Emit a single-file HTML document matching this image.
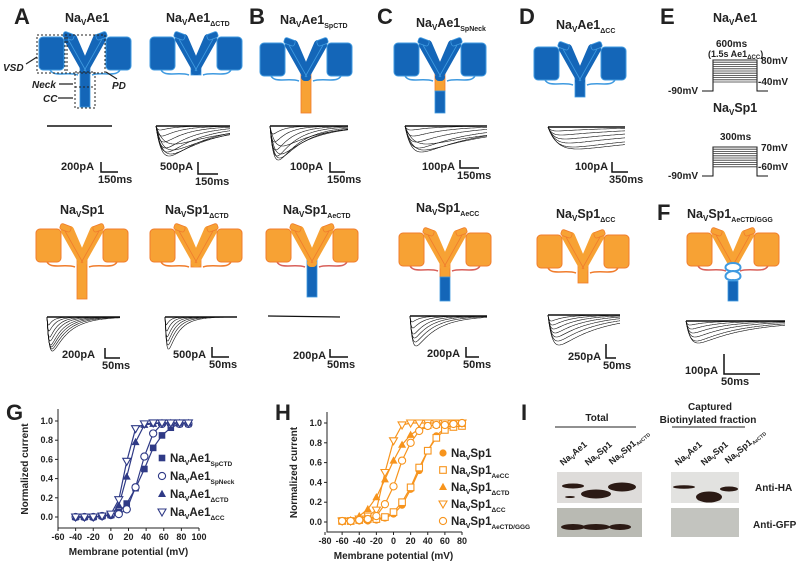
<!DOCTYPE html>
<html><head><meta charset="utf-8"><style>
html,body{margin:0;padding:0;background:#fff}
svg{display:block;font-family:"Liberation Sans",Arial,sans-serif;font-weight:bold}
</style></head><body>
<svg id="fig" width="800" height="566" viewBox="0 0 800 566" xmlns="http://www.w3.org/2000/svg">
<g font-size="22" fill="#222">
<text x="14" y="24">A</text>
<text x="249" y="24">B</text>
<text x="377" y="24">C</text>
<text x="519" y="24">D</text>
<text x="660" y="24">E</text>
<text x="657" y="220">F</text>
<text x="6" y="420">G</text>
<text x="275" y="420">H</text>
<text x="521" y="420">I</text>
</g>
<g font-size="12.5" fill="#222">
<text x="65" y="22">Na<tspan font-size="8" dy="3">V</tspan><tspan dy="-3">Ae1</tspan></text>
<text x="166" y="22">Na<tspan font-size="8" dy="3">V</tspan><tspan dy="-3">Ae1</tspan><tspan font-size="7" dy="4">ΔCTD</tspan></text>
<text x="280" y="24">Na<tspan font-size="8" dy="3">V</tspan><tspan dy="-3">Ae1</tspan><tspan font-size="7" dy="4">SpCTD</tspan></text>
<text x="416" y="27">Na<tspan font-size="8" dy="3">V</tspan><tspan dy="-3">Ae1</tspan><tspan font-size="7" dy="4">SpNeck</tspan></text>
<text x="556" y="29">Na<tspan font-size="8" dy="3">V</tspan><tspan dy="-3">Ae1</tspan><tspan font-size="7" dy="4">ΔCC</tspan></text>
<text x="713" y="22">Na<tspan font-size="8" dy="3">V</tspan><tspan dy="-3">Ae1</tspan></text>
<text x="713" y="112">Na<tspan font-size="8" dy="3">V</tspan><tspan dy="-3">Sp1</tspan></text>
<text x="60" y="214">Na<tspan font-size="8" dy="3">V</tspan><tspan dy="-3">Sp1</tspan></text>
<text x="165" y="214">Na<tspan font-size="8" dy="3">V</tspan><tspan dy="-3">Sp1</tspan><tspan font-size="7" dy="4">ΔCTD</tspan></text>
<text x="283" y="214">Na<tspan font-size="8" dy="3">V</tspan><tspan dy="-3">Sp1</tspan><tspan font-size="7" dy="4">AeCTD</tspan></text>
<text x="416" y="212">Na<tspan font-size="8" dy="3">V</tspan><tspan dy="-3">Sp1</tspan><tspan font-size="7" dy="4">AeCC</tspan></text>
<text x="556" y="218">Na<tspan font-size="8" dy="3">V</tspan><tspan dy="-3">Sp1</tspan><tspan font-size="7" dy="4">ΔCC</tspan></text>
<text x="687" y="218">Na<tspan font-size="8" dy="3">V</tspan><tspan dy="-3">Sp1</tspan><tspan font-size="7" dy="4">AeCTD/GGG</tspan></text>
</g>
<g id="channels"></g>
<g id="traces"></g>
<g id="scalebars" font-size="11" fill="#222"></g>
<g font-size="10" fill="#222" font-style="italic">
<rect x="37" y="35" width="30" height="38" fill="none" stroke="#222" stroke-dasharray="2,2"/>
<rect x="65" y="35" width="40" height="38" fill="none" stroke="#222" stroke-dasharray="2,2"/>
<rect x="75" y="72" width="20" height="36" fill="none" stroke="#222" stroke-dasharray="2,2"/>
<line x1="75" y1="87" x2="95" y2="87" stroke="#222" stroke-dasharray="2,2"/>
<text x="3" y="71">VSD</text>
<text x="32" y="88">Neck</text>
<text x="43" y="102">CC</text>
<text x="112" y="89">PD</text>
<path d="M26 64 L37 57 M59 84 L73 84 M58 98 L73 98 M117 79 L106 72" stroke="#222" stroke-width="1.2"/>
</g>
<g id="protocol" fill="#222"></g>
<g id="chartG"></g>
<g id="chartH"></g>
<g id="blot"></g>
</svg>
<script>
const NS='http://www.w3.org/2000/svg';
function mk(parent,tag,attrs,text){const e=document.createElementNS(NS,tag);for(const k in attrs)e.setAttribute(k,attrs[k]);if(text!==undefined)e.textContent=text;parent.appendChild(e);return e;}
const $=id=>document.getElementById(id);

// ---------- channel diagrams ----------
const BLUE='#1466b8',BLUE_S='#3f9ae0',OR='#f7a234',OR_S='#f07c2c',RED='#d8605a';
function channel(name,cx,ty,fill,stroke,loop,stem){
  const g=mk($('channels'),'g',{});
  
  
  mk(g,'path',{d:`M${cx-36} ${ty+30} C${cx-34} ${ty+42},${cx-18} ${ty+34},${cx-7} ${ty+38} M${cx+36} ${ty+30} C${cx+34} ${ty+42},${cx+18} ${ty+34},${cx+7} ${ty+38}`,fill:'none',stroke:loop,'stroke-width':1.5});
  mk(g,'rect',{x:cx-46,y:ty,width:25,height:33,rx:4,fill,stroke,'stroke-width':1});
  mk(g,'rect',{x:cx+21,y:ty,width:25,height:33,rx:4,fill,stroke,'stroke-width':1});
  stem.forEach(s=>mk(g,'rect',{x:cx-5,y:ty+s[0],width:10,height:s[1]-s[0],fill:s[2],stroke:s[3],'stroke-width':0.8}));
  const arm=(x1,y1,x2,y2)=>mk(g,'line',{x1,y1,x2,y2,stroke:fill,'stroke-width':8,'stroke-linecap':'round'});
  arm(cx-17,ty+2,cx+1,ty+34);arm(cx+17,ty+2,cx-1,ty+34);
  arm(cx-12,ty+1,cx-3,ty+22);arm(cx+12,ty+1,cx+3,ty+22);
  mk(g,'path',{d:`M${cx-17} ${ty+2} L${cx+1} ${ty+34} M${cx+17} ${ty+2} L${cx-1} ${ty+34}`,stroke:stroke,'stroke-width':0.8,fill:'none'});
  mk(g,'rect',{x:cx-22,y:ty-4,width:11,height:6,rx:2,fill,stroke,'stroke-width':0.8,transform:`rotate(20 ${cx-16} ${ty-1})`});
  mk(g,'rect',{x:cx+11,y:ty-4,width:11,height:6,rx:2,fill,stroke,'stroke-width':0.8,transform:`rotate(-20 ${cx+16} ${ty-1})`});
}
channel('channel-ae1',85,37,BLUE,BLUE_S,BLUE_S,[[30,70,BLUE,BLUE_S]]);
channel('channel-ae1-dctd',196,37,BLUE,BLUE_S,BLUE_S,[[28,38,BLUE,BLUE_S]]);
channel('channel-ae1-spctd',306,43,BLUE,BLUE_S,BLUE_S,[[30,70,OR,OR_S]]);
channel('channel-ae1-spneck',440,43,BLUE,BLUE_S,BLUE_S,[[30,48,OR,OR_S],[48,70,BLUE,BLUE_S]]);
channel('channel-ae1-dcc',580,47,BLUE,BLUE_S,BLUE_S,[[30,50,BLUE,BLUE_S]]);
channel('channel-sp1',82,229,OR,OR_S,OR_S,[[30,70,OR,OR_S]]);
channel('channel-sp1-dctd',196,229,OR,OR_S,OR_S,[[28,38,OR,OR_S]]);
channel('channel-sp1-aectd',312,229,OR,OR_S,RED,[[30,68,BLUE,BLUE_S]]);
channel('channel-sp1-aecc',445,233,OR,OR_S,RED,[[30,44,OR,OR_S],[44,68,BLUE,BLUE_S]]);
channel('channel-sp1-dcc',583,235,OR,OR_S,OR_S,[[30,48,OR,OR_S]]);
channel('channel-sp1-aectd-ggg',733,233,OR,OR_S,RED,[[48,68,BLUE,BLUE_S]]);
(function(){const g=$('channels');const c=mk(g,'path',{d:'M733 263 C723 263,723 272,733 271 C743 272,743 263,733 263 M733 271 C723 272,723 281,733 280 C743 281,743 272,733 271',fill:'#fff',stroke:BLUE_S,'stroke-width':2});

})();

// ---------- current traces ----------
function traces(name,x0,x1,base,depths,rise,decay){
  const g=mk($('traces'),'g',{fill:'none',stroke:'#111','stroke-width':0.6});
  
  
  mk(g,'line',{x1:x0,y1:base,x2:x1,y2:base,'stroke-width':1.4});
  depths.forEach((d,i)=>{const tr=rise*(1+i*0.5),td=decay*(1+i*0.35);let vals=[];
    for(let x=x0;x<=x1;x+=1){const t=x-x0;vals.push((1-Math.exp(-t/tr))*Math.exp(-t/td));}
    const mx=Math.max(...vals);
    const p=vals.map((v,k)=>(x0+k)+','+(base+d*2*v/mx).toFixed(1));
    mk(g,'polyline',{points:p.join(' ')});});
}
mk($('traces'),'line',{x1:47,y1:126,x2:112,y2:126,stroke:'#111','stroke-width':1.5});
traces('traces-ae1-dctd',156,230,126,[2,5,8,11,13,15,14,12,9],2,14);
traces('traces-ae1-spctd',270,348,126,[4,8,12,15,17,16,14,10],1.5,10);
traces('traces-ae1-spneck',405,487,126,[2,5,8,11,13,12,9],2.5,25);
traces('traces-ae1-dcc',548,625,127,[2,4,6,8,10,11],3,60);
traces('traces-sp1',47,120,317,[4,7,10,12,14,15,16,17],0.6,5);
traces('traces-sp1-dctd',165,237,317,[4,7,10,12,14,16],0.5,4);
mk($('traces'),'line',{x1:268,y1:316,x2:340,y2:317,stroke:'#111','stroke-width':1.3});
traces('traces-sp1-aecc',410,487,316,[3,6,9,11,13,15],0.8,8);
traces('traces-sp1-dcc',548,620,315,[3,5,7,9,11,13,15],1.2,14);
traces('traces-sp1-aectd-ggg',686,785,321,[2,4,6,8,10,11],1.5,18);

// ---------- scale bars ----------
function sbar(name,tx,ty,label,ms,bx,by,h,w){
  const g=mk($('scalebars'),'g',{});
  
  
  mk(g,'text',{x:tx,y:ty},label);
  mk(g,'path',{d:`M${bx} ${by-h} L${bx} ${by} L${bx+w} ${by}`,stroke:'#111','stroke-width':1.5,fill:'none'});
  mk(g,'text',{x:bx-3,y:by+11},ms);
}
sbar('scale-ae1',61,170,'200pA','150ms',101,172,10,17);
sbar('scale-ae1-dctd',160,170,'500pA','150ms',198,174,12,20);
sbar('scale-ae1-spctd',290,170,'100pA','150ms',330,172,10,15);
sbar('scale-ae1-spneck',422,170,'100pA','150ms',460,168,8,19);
sbar('scale-ae1-dcc',575,170,'100pA','350ms',612,172,10,16);
sbar('scale-sp1',62,358,'200pA','50ms',105,358,10,15);
sbar('scale-sp1-dctd',173,358,'500pA','50ms',212,357,10,17);
sbar('scale-sp1-aectd',293,359,'200pA','50ms',330,357,8,18);
sbar('scale-sp1-aecc',427,357,'200pA','50ms',466,357,10,13);
sbar('scale-sp1-dcc',568,360,'250pA','50ms',606,358,14,10);
sbar('scale-sp1-aectd-ggg',685,374,'100pA','50ms',724,374,20,36);

// ---------- voltage protocols ----------
function proto(name,y0,top,bot,dur,l1,l2){
  const g=mk($('protocol'),'g',{'font-size':10});
  
  
  mk(g,'path',{d:`M702 ${y0} L713 ${y0} L713 ${top} L757 ${top} L757 ${y0} L768 ${y0}`,stroke:'#111','stroke-width':1,fill:'none'});
  for(let y=top;y<=bot;y+=2.2)mk(g,'line',{x1:713,y1:y,x2:757,y2:y,stroke:'#333','stroke-width':0.8});
  mk(g,'text',{x:668,y:y0+3},'-90mV');
  mk(g,'text',{x:761,y:top+4},l1);
  mk(g,'text',{x:758,y:bot+2},l2);
  if(dur)mk(g,'text',{x:720,y:top-7},dur);
}
proto('protocol-ae1',91,60,83,'','80mV','-40mV');
proto('protocol-sp1',176,147,168,'300ms','70mV','-60mV');
(function(){const g=$('protocol');const t=mk(g,'text',{x:716,y:47,'font-size':10},'600ms');


const t2=mk(g,'text',{x:708,y:57,'font-size':9});


t2.innerHTML='(1.5s Ae1<tspan font-size="6" dy="2">ΔCC</tspan><tspan dy="-2">)</tspan>';})();

// ---------- G & H charts ----------
const gVoltages=[-40,-30,-20,-10,0,9,18,28,38,48,58,68,78,88];
const gSpCTD=[0,0,0,0.01,0.02,0.05,0.14,0.3,0.5,0.72,0.85,0.93,0.97,0.97];
const gSpNeck=[0,0,0,0.01,0.02,0.03,0.08,0.31,0.63,0.87,0.97,0.97,0.97,0.97];
const gDCTD=[0,0,0,0.01,0.02,0.12,0.42,0.78,0.96,0.97,0.98,0.98,0.98,0.98];
const gDCC=[0,0,0,0.01,0.03,0.18,0.58,0.92,0.97,0.98,0.98,0.98,0.98,0.98];
const gLabels=['SpCTD','SpNeck','ΔCTD','ΔCC'];
const gXTicks=[-60,-40,-20,0,20,40,60,80,100];
const yTicks=[0.0,0.2,0.4,0.6,0.8,1.0];
const hVoltages=[-60,-50,-40,-30,-20,-10,0,10,20,30,40,50,60,70,80];
const hSp1=[0.01,0.01,0.01,0.01,0.02,0.04,0.08,0.17,0.33,0.52,0.72,0.87,0.95,0.98,1.0];
const hAeCC=[0.01,0.01,0.02,0.03,0.03,0.05,0.1,0.2,0.35,0.55,0.72,0.85,0.93,0.96,0.97];
const hDCTD=[0.01,0.02,0.06,0.13,0.25,0.43,0.62,0.78,0.88,0.94,0.97,0.98,0.99,0.99,0.99];
const hDCC=[0.01,0.01,0.03,0.06,0.12,0.5,0.82,0.98,1.0,1.0,1.0,1.0,1.0,1.0,1.0];
const hGGG=[0.01,0.01,0.02,0.03,0.06,0.18,0.36,0.62,0.8,0.92,0.97,0.98,0.98,0.99,1.0];
const hLabels=['','AeCC','ΔCTD','ΔCC','AeCTD/GGG'];
const hXTicks=[-80,-60,-40,-20,0,20,40,60,80];

function marker(g,type,x,y,c){
  const s=3.3;let e;
  if(type==='sq')e=mk(g,'rect',{x:x-s,y:y-s,width:2*s,height:2*s,fill:c});
  else if(type==='osq')e=mk(g,'rect',{x:x-s,y:y-s,width:2*s,height:2*s,fill:'#fff',stroke:c,'stroke-width':1.1});
  else if(type==='ci')e=mk(g,'circle',{cx:x,cy:y,r:s+0.3,fill:c});
  else if(type==='oci')e=mk(g,'circle',{cx:x,cy:y,r:s+0.3,fill:'#fff',stroke:c,'stroke-width':1.1});
  else if(type==='tri')e=mk(g,'path',{d:`M${x} ${y-4.2} L${x+4} ${y+3} L${x-4} ${y+3}Z`,fill:c});
  else e=mk(g,'path',{d:`M${x} ${y+4} L${x+4} ${y-3} L${x-4} ${y-3}Z`,fill:'#fff',stroke:c,'stroke-width':1.1});
  return e;
}
function chart(root,opt){
  const c=opt.color;
  const X=v=>opt.x0+(v-opt.xmin)*(opt.x1-opt.x0)/(opt.xmax-opt.xmin);
  const Y=v=>opt.y0-v*(opt.y0-opt.y1);
  const ax=mk(root,'g',{stroke:'#222','stroke-width':1,fill:'none'});
  
  
  mk(ax,'path',{d:`M${opt.ax} ${opt.ytop} L${opt.ax} ${opt.axy} L${X(opt.xmax)} ${opt.axy}`});
  const tl=mk(root,'g',{'font-size':9,fill:'#222'});
  
  
  yTicks.forEach(v=>{mk(ax,'line',{x1:opt.ax-3,y1:Y(v),x2:opt.ax,y2:Y(v)});mk(tl,'text',{x:opt.ax-5,y:Y(v)+3,'text-anchor':'end'},v.toFixed(1));});
  opt.xt.forEach(v=>{mk(ax,'line',{x1:X(v),y1:opt.axy,x2:X(v),y2:opt.axy+3});mk(tl,'text',{x:X(v),y:opt.axy+12,'text-anchor':'middle'},String(v));});
  const yt=mk(root,'text',{x:0,y:0,'font-size':10,fill:'#222','text-anchor':'middle',transform:`translate(${opt.ax-30} ${(opt.y0+opt.y1)/2}) rotate(-90)`},'Normalized current');
  
  
  const xt=mk(root,'text',{x:(opt.x0+X(opt.xmax))/2,y:opt.axy+27,'font-size':10,fill:'#222','text-anchor':'middle'},'Membrane potential (mV)');
  
  
  opt.series.forEach((s,i)=>{
    const g=mk(root,'g',{});
    
    
    mk(g,'polyline',{points:opt.xs.map((v,j)=>X(v)+','+Y(s.v[j])).join(' '),fill:'none',stroke:c,'stroke-width':1.2});
    opt.xs.forEach((v,j)=>{const m=marker(g,s.m,X(v),Y(s.v[j]),c);
      
      });
    const ly=opt.ly+i*opt.ld;
    const lg=mk(root,'g',{});
    
    
    marker(lg,s.m,opt.lx,ly,c);
    const t=mk(lg,'text',{x:opt.lx+8,y:ly+4,'font-size':11.5,fill:'#222'});
    t.innerHTML=`Na<tspan font-size="7" dy="3">V</tspan><tspan dy="-3">${opt.prefix}</tspan><tspan font-size="6.5" dy="4">${s.label}</tspan>`;
  });
}
chart($('chartG'),{color:'#2f3a86',xmin:-60,xmax:100,x0:58,x1:199,y0:517,y1:421,ax:58,axy:528,ytop:409,xt:gXTicks,xs:gVoltages,
  lx:162,ly:458,ld:18,prefix:'Ae1',
  series:[{v:gSpCTD,m:'sq',label:gLabels[0]},{v:gSpNeck,m:'oci',label:gLabels[1]},{v:gDCTD,m:'tri',label:gLabels[2]},{v:gDCC,m:'itri',label:gLabels[3]}]});
chart($('chartH'),{color:'#f7941d',xmin:-80,xmax:80,x0:325,x1:462,y0:522,y1:423,ax:327,axy:532,ytop:412,xt:hXTicks,xs:hVoltages,
  lx:443,ly:453,ld:17,prefix:'Sp1',
  series:[{v:hSp1,m:'ci',label:hLabels[0]},{v:hAeCC,m:'osq',label:hLabels[1]},{v:hDCTD,m:'tri',label:hLabels[2]},{v:hDCC,m:'itri',label:hLabels[3]},{v:hGGG,m:'oci',label:hLabels[4]}]});

// ---------- western blot ----------
(function(){
  const b=$('blot');
  const t1=mk(b,'text',{x:597,y:421,'font-size':10,'text-anchor':'middle',fill:'#222'},'Total');
  
  
  mk(b,'line',{x1:555,y1:427,x2:636,y2:427,stroke:'#222'});
  const t2=mk(b,'text',{x:710,y:410,'font-size':10,'text-anchor':'middle',fill:'#222'},'Captured');
  
  
  const t3=mk(b,'text',{x:708,y:423,'font-size':10,'text-anchor':'middle',fill:'#222'},'Biotinylated fraction');
  
  
  mk(b,'line',{x1:672,y1:427,x2:745,y2:427,stroke:'#222'});
  const lanes=[[563,466,'Ae1',''],[588,466,'Sp1',''],[612,465,'Sp1','AeCTD'],[678,466,'Ae1',''],[704,466,'Sp1',''],[728,464,'Sp1','AeCTD']];
  lanes.forEach(l=>{const t=mk(b,'text',{x:0,y:0,'font-size':9,fill:'#222',transform:`translate(${l[0]} ${l[1]}) rotate(-40)`});
    
    
    t.innerHTML=`Na<tspan font-size="6" dy="2">V</tspan><tspan dy="-2">${l[2]}</tspan><tspan font-size="5" dy="2">${l[3]}</tspan>`;});
  const panels=[[557,472,85,31,'#dedcda','blot-total-ha'],[557,508,85,29,'#b9bab3','blot-total-gfp'],[671,472,68,31,'#e2e2e0','blot-captured-ha'],[671,508,68,29,'#c3c4bf','blot-captured-gfp']];
  panels.forEach(p=>{const r=mk(b,'rect',{x:p[0],y:p[1],width:p[2],height:p[3],fill:p[4]});
    
    });
  const bands=[[573,486,11,2.5],[596,494,15,4.5],[622,487,14,4.5],[570,497,5,1],[573,527,12,3],[596,527,14,3],[620,527,11,3],[684,487,11,1.8],[709,497,13,5.5],[729,489,9,2.5]];
  bands.forEach(d=>{const e=mk(b,'ellipse',{cx:d[0],cy:d[1],rx:d[2],ry:d[3],fill:'#2b1a14'});
    
    });
  const a1=mk(b,'text',{x:755,y:491,'font-size':10,fill:'#222'},'Anti-HA');
  
  
  const a2=mk(b,'text',{x:753,y:528,'font-size':10,fill:'#222'},'Anti-GFP');
  
  
})();
</script>
</body></html>
